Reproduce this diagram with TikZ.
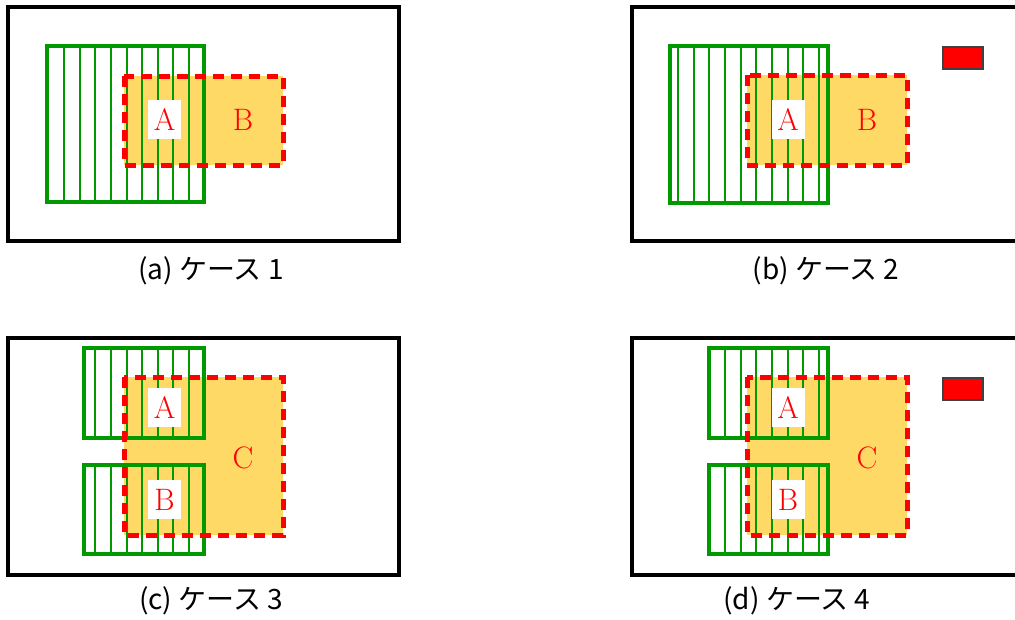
\documentclass[tikz,border=0pt]{standalone}
\usepackage{fontspec}
\newfontfamily\capfont{Noto Sans CJK JP}
\usetikzlibrary{positioning}
\definecolor{grn}{RGB}{0,153,0}
\definecolor{zonefill}{RGB}{255,217,102}

\begin{document}
\begin{tikzpicture}[x=1pt,y=-1pt]
  \tikzstyle{frame}=[draw=black,line width=4pt,fill=white]
  \tikzstyle{zone}=[fill=zonefill]
  \tikzstyle{zoneline}=[draw=red,line width=5pt,dash pattern=on 11pt off 7pt]
  \tikzstyle{hatch}=[draw=grn,line width=2pt]
  \tikzstyle{cover}=[draw=grn,line width=4pt]
  \tikzstyle{lbl}=[text=red,font=\fontsize{31}{33}\selectfont,inner sep=0pt]
  \tikzstyle{lblbox}=[lbl,fill=white,minimum width=33pt,minimum height=39pt]
  \tikzstyle{marker}=[fill=red,draw=black!75,line width=1.2pt]
  \tikzstyle{captxt}=[font=\capfont\fontsize{28}{30}\selectfont,inner sep=0pt]

  \useasboundingbox (0,0) rectangle (1015,619);
  \clip (0,0) rectangle (1015,619);

  % (a) case 1
  \draw[frame] (8,7) rectangle (399,241);
  \fill[zone] (124,76) rectangle (283,165);
  \foreach \i in {0,...,8}
    \draw[hatch] ({64+15.625*\i},46) -- ({64+15.625*\i},202);
  \draw[cover] (47,46) rectangle (204,202);
  \node[lblbox] (a-A) at (164.5,119.5) {A};
  \node[lbl] (a-B) at (243,120) {B};
  \draw[zoneline] (124,76) rectangle (283,165);
  \node[captxt] (a-cap) at (211,271) {(a) ケース 1};

  % (b) case 2
  \draw[frame] (632,7) rectangle (1023,241);
  \fill[zone] (747,75) rectangle (907,165);
  \foreach \i in {0,...,9}
    \draw[hatch] ({678+15.67*\i},46) -- ({678+15.67*\i},203);
  \draw[cover] (670,46) rectangle (828,203);
  \node[lblbox] (b-A) at (788,119.5) {A};
  \node[lbl] (b-B) at (867,120) {B};
  \draw[zoneline] (747,75) rectangle (907,165);
  \draw[marker] (943,47) rectangle (983,69);
  \node[captxt] (b-cap) at (826,271) {(b) ケース 2};

  % (c) case 3
  \draw[frame] (8,338) rectangle (399,575);
  \fill[zone] (124,377) rectangle (283,535);
  \foreach \i in {2,...,8} {
    \draw[hatch] ({64+15.625*\i},348) -- ({64+15.625*\i},438);
    \draw[hatch] ({64+15.625*\i},465) -- ({64+15.625*\i},554);
  }
  \draw[cover] (84,348) rectangle (204,438);
  \draw[cover] (84,465) rectangle (204,554);
  \node[lblbox] (c-A) at (164.5,407.5) {A};
  \node[lblbox] (c-B) at (164.5,499.5) {B};
  \node[lbl] (c-C) at (243,458) {C};
  \draw[zoneline] (124,377) rectangle (283,535);
  \node[captxt] (c-cap) at (211,601) {(c) ケース 3};

  % (d) case 4
  \draw[frame] (632,338) rectangle (1023,575);
  \fill[zone] (747,377) rectangle (907,535);
  \foreach \i in {3,...,9} {
    \draw[hatch] ({678+15.67*\i},348) -- ({678+15.67*\i},438);
    \draw[hatch] ({678+15.67*\i},465) -- ({678+15.67*\i},554);
  }
  \draw[cover] (709,348) rectangle (828,438);
  \draw[cover] (709,465) rectangle (828,554);
  \node[lblbox] (d-A) at (788,407.5) {A};
  \node[lblbox] (d-B) at (788,499.5) {B};
  \node[lbl] (d-C) at (867,458) {C};
  \draw[zoneline] (747,377) rectangle (907,535);
  \draw[marker] (943,378) rectangle (983,400);
  \node[captxt] (d-cap) at (797,601) {(d) ケース 4};
\end{tikzpicture}
\end{document}
